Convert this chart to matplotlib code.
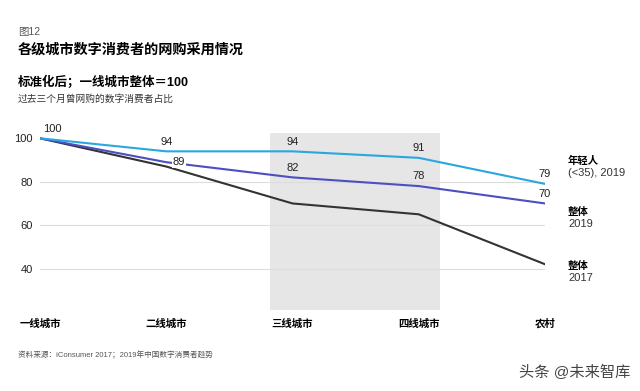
import matplotlib
matplotlib.use("Agg")
from matplotlib import pyplot as plt

plt.rcParams['font.family'] = ['Liberation Sans', 'Noto Sans CJK SC', 'DejaVu Sans']

# data
cities = ['一线城市', '二线城市', '三线城市', '四线城市', '农村']
young_2019 = [100, 94, 94, 91, 79]
total_2019 = [100, 89, 82, 78, 70]
total_2017 = [100, 87, 70, 65, 42]
yticks = [40, 60, 80, 100]

x = list(range(len(cities)))

fig = plt.figure(figsize=(6.4, 3.91), dpi=100)
ax = fig.add_axes([40 / 640, 1 - 312 / 391, 505 / 640, (312 - 131.8) / 391])
ax.set_xlim(0, 4)
ax.set_ylim(20, 103)

# shaded band behind tier-3/tier-4 cities
ax.fill_between([1.82, 3.17], 20.7, 102.3, color='#e6e6e6', lw=0, zorder=0)

for v in yticks[:-1]:
    ax.axhline(v, color='#dcdcdc', lw=0.8, zorder=1)

c_young = '#2aa7de'
c_19 = '#4b4fc0'
c_17 = '#333333'
ax.plot(x, total_2017, color=c_17, lw=1.5, zorder=3)
ax.plot(x, total_2019, color=c_19, lw=1.5, zorder=4)
ax.plot(x, young_2019, color=c_young, lw=1.5, zorder=5)

def lab(xi, yi, dx=0, dy=7, bg=False):
    kw = {}
    if bg:
        kw['bbox'] = dict(facecolor='white', edgecolor='none', pad=0.5)
    ax.annotate(str(yi), (xi, yi), xytext=(dx, dy), textcoords='offset points',
                ha='center', va='center', fontsize=8, color='#222222', zorder=6, **kw)

lab(0, young_2019[0], dx=9)
for i in range(1, 5):
    if i == 1:
        lab(i, total_2019[i], dx=9, dy=0, bg=True)
    else:
        lab(i, total_2019[i])
    lab(i, young_2019[i])

ax.set_xticks(x)
ax.set_xticklabels(cities, fontsize=7.5, fontweight='bold')
for t in ax.get_xticklabels():
    t.set_va('center')
ax.set_yticks(yticks)
ax.set_yticklabels([str(v) for v in yticks], fontsize=8, color='#222222')
ax.tick_params(axis='x', length=0, pad=8.6)
ax.tick_params(axis='y', length=0, pad=5)
for s in ax.spines.values():
    s.set_visible(False)
ax.set_facecolor('none')

# series labels at the right
def side(ypx, t1, t2):
    fig.text(568 / 640, 1 - ypx / 391, t1, fontsize=7.5, fontweight='bold', va='center')
    fig.text(568 / 640, 1 - (ypx + 12) / 391, t2, fontsize=8, color='#333333', va='center')

side(161, '年轻人', '(<35), 2019')
side(212, '整体', '2019')
side(266, '整体', '2017')

# header
fig.text(18 / 640, 1 - 32 / 391, '图12', fontsize=7.5, color='#555555', va='center')
fig.text(18 / 640, 1 - 50 / 391, '各级城市数字消费者的网购采用情况', fontsize=10.2,
         fontweight='bold', va='center')
fig.text(18 / 640, 1 - 82 / 391, '标准化后；一线城市整体＝100', fontsize=9,
         fontweight='bold', va='center')
fig.text(18 / 640, 1 - 99 / 391, '过去三个月曾网购的数字消费者占比', fontsize=7,
         color='#333333', va='center')

# footer
fig.text(18 / 640, 1 - 355 / 391, '资料来源：iConsumer 2017；2019年中国数字消费者趋势',
         fontsize=5.5, color='#555555', va='center')
fig.text(630 / 640, 1 - 372 / 391, '头条 @未来智库', fontsize=11, color='#444444',
         ha='right', va='center')

fig.savefig('out.png', dpi=100)
